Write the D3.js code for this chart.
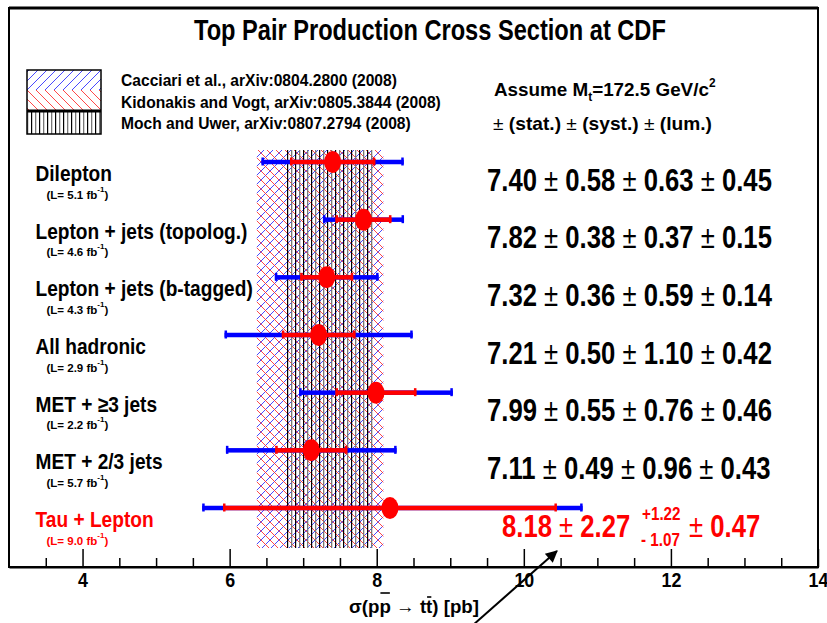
<!DOCTYPE html>
<html>
<head>
<meta charset="utf-8">
<script src="https://cdn.jsdelivr.net/npm/d3@7"></script>
<style>
  body { margin: 0; background: #fff; }
  text { font-family: "Liberation Sans", Arial, Helvetica, sans-serif; }
</style>
</head>
<body>
<div id="chart"></div>
<script>
// measurements, top to bottom as they appear in the plot
const channels = ["Dilepton", "Lepton + jets (topolog.)", "Lepton + jets (b-tagged)", "All hadronic",
  "MET + ≥3 jets", "MET + 2/3 jets", "Tau + Lepton"];
const lumiFb = ["5.1", "4.6", "4.3", "2.9", "2.2", "5.7", "9.0"];
const xsec = [7.40, 7.82, 7.32, 7.21, 7.99, 7.11, 8.18];
const statErr = [0.58, 0.38, 0.36, 0.50, 0.55, 0.49, 2.27];
const systUp = [0.63, 0.37, 0.59, 1.10, 0.76, 0.96, 1.22];
const systDown = [0.63, 0.37, 0.59, 1.10, 0.76, 0.96, 1.07];
const lumiErr = [0.45, 0.15, 0.14, 0.42, 0.46, 0.43, 0.47];
const newResult = "Tau + Lepton";

// theory predictions (bands)
const theoryNames = ["Cacciari et al., arXiv:0804.2800 (2008)",
  "Kidonakis and Vogt, arXiv:0805.3844 (2008)",
  "Moch and Uwer, arXiv:0807.2794 (2008)"];
const theoryLow = [6.37, 6.37, 6.78];
const theoryHigh = [8.09, 8.09, 7.97];

const xTicks = [4, 6, 8, 10, 12, 14];
const xMinor = [3.5, 4.5, 5, 5.5, 6.5, 7, 7.5, 8.5, 9, 9.5, 10.5, 11, 11.5, 12.5, 13, 13.5];

const title = "Top Pair Production Cross Section at CDF";

const W = 827, H = 623;
const frame = { left: 9, right: 818, top: 8, bottom: 567 };

const svg = d3.select("#chart").append("svg")
  .attr("width", W)
  .attr("height", H);

const x = d3.scaleLinear().domain([3, 14]).range([frame.left, frame.right]);
const y = d3.scalePoint().domain(channels).range([162, 508]);

const rows = channels.map((c, i) => ({
  name: c,
  lumi: lumiFb[i],
  v: xsec[i],
  stat: statErr[i],
  up: Math.hypot(statErr[i], systUp[i], lumiErr[i]),
  down: Math.hypot(statErr[i], systDown[i], lumiErr[i]),
  color: c === newResult ? "#ff0000" : "#000"
}));

// hatch patterns
const defs = svg.append("defs");
function pattern(id, w, h) {
  return defs.append("pattern").attr("id", id)
    .attr("patternUnits", "userSpaceOnUse")
    .attr("width", w).attr("height", h);
}
pattern("hatchBlue", 9, 9).append("path")
  .attr("d", "M0,9 L9,0 M-1,1 L1,-1 M8,10 L10,8")
  .attr("stroke", "#3333ff").attr("stroke-width", 0.9);
pattern("hatchRed", 9, 9).append("path")
  .attr("d", "M0,0 L9,9 M-1,8 L1,10 M8,-1 L10,1")
  .attr("stroke", "#ff3333").attr("stroke-width", 0.9);
let vp = pattern("hatchVert", 8, 10).attr("x", Math.round(x(theoryLow[2])));
vp.append("rect").attr("x", 0).attr("width", 1.2).attr("height", 10).attr("fill", "#000");
vp.append("rect").attr("x", 4).attr("width", 1.3).attr("height", 10).attr("fill", "#777");

defs.append("marker").attr("id", "arrow")
  .attr("viewBox", "0 0 10 10")
  .attr("refX", 9).attr("refY", 5)
  .attr("markerUnits", "userSpaceOnUse")
  .attr("markerWidth", 16).attr("markerHeight", 12)
  .attr("orient", "auto")
  .append("path").attr("d", "M0,0 L10,5 L0,10 z").attr("fill", "#000");

// theory bands
const bandTop = y(channels[0]) - 12;
const bandBottom = y(channels[channels.length - 1]) + 40;
const fills = ["url(#hatchBlue)", "url(#hatchRed)", "url(#hatchVert)"];
svg.append("g").selectAll("rect")
  .data(theoryLow)
  .join("rect")
    .attr("x", (d, i) => x(d))
    .attr("width", (d, i) => x(theoryHigh[i]) - x(d))
    .attr("y", bandTop)
    .attr("height", bandBottom - bandTop)
    .attr("fill", (d, i) => fills[i]);

// error bars: blue = total, red = stat
const barH = 4.5, capH = 8, capW = 2.5;
function bars(color, lo, hi) {
  const g = svg.append("g").attr("fill", color);
  g.selectAll("rect.bar").data(rows).join("rect").attr("class", "bar")
    .attr("x", d => x(d.v - lo(d)))
    .attr("width", d => x(d.v + hi(d)) - x(d.v - lo(d)))
    .attr("y", d => y(d.name) - barH / 2)
    .attr("height", barH);
  g.selectAll("rect.capl").data(rows).join("rect").attr("class", "capl")
    .attr("x", d => x(d.v - lo(d)))
    .attr("width", capW)
    .attr("y", d => y(d.name) - capH / 2 - 0.5)
    .attr("height", capH);
  g.selectAll("rect.capr").data(rows).join("rect").attr("class", "capr")
    .attr("x", d => x(d.v + hi(d)) - capW)
    .attr("width", capW)
    .attr("y", d => y(d.name) - capH / 2 - 0.5)
    .attr("height", capH);
}
bars("#0000ff", d => d.down, d => d.up);
bars("#ff0000", d => d.stat, d => d.stat);

svg.append("g").selectAll("ellipse")
  .data(rows)
  .join("ellipse")
    .attr("cx", d => x(d.v))
    .attr("cy", d => y(d.name))
    .attr("rx", 8.5)
    .attr("ry", 11)
    .attr("fill", "#ff0000");

// helper: squeeze a text group horizontally to a given width
function place(g, x0, y0, k) {
  g.attr("transform", `translate(${x0},${y0}) scale(${k},1)`);
}
function widthOf(g) { return g.node().getBBox().width; }

// channel labels
const labelG = rows.map(d => {
  const g = svg.append("g");
  g.append("text")
    .attr("font-size", 22).attr("font-weight", "bold")
    .attr("fill", d.color)
    .text(d.name);
  return g;
});
const kLabel = 212 / widthOf(labelG[1]);
labelG.forEach((g, i) => place(g, 35.5, y(rows[i].name) + 19, kLabel));

// luminosity labels
rows.forEach(d => {
  const t = svg.append("text")
    .attr("x", 46.5).attr("y", y(d.name) + 36.5)
    .attr("font-size", 11.5).attr("font-weight", "bold")
    .attr("fill", d.color);
  t.append("tspan").text(`(L= ${d.lumi} fb`);
  t.append("tspan").attr("font-size", 8).attr("dy", -7).text("-1");
  t.append("tspan").attr("dy", 7).text(")");
});

// result numbers
function pmText(g, parts, size, color) {
  const t = g.append("text").attr("font-size", size).attr("fill", color);
  parts.forEach(p => {
    t.append("tspan")
      .attr("font-weight", p === "±" ? "normal" : "bold")
      .text(p === "±" ? " ± " : p);
  });
  return t;
}
const numG = rows.map((d, i) => {
  const g = svg.append("g");
  if (d.name === newResult) {
    pmText(g, [d.v.toFixed(2), "±", d.stat.toFixed(2)], 32, d.color);
  } else {
    pmText(g, [d.v.toFixed(2), "±", d.stat.toFixed(2), "±", systUp[i].toFixed(2),
      "±", lumiErr[i].toFixed(2)], 32, d.color);
  }
  return g;
});
const kNum = 285 / widthOf(numG[0]);
numG.forEach((g, i) => {
  const d = rows[i];
  const yb = y(d.name) + 28.5;
  if (d.name !== newResult) {
    place(g, 487, yb, kNum);
  } else {
    place(g, 502, yb, kNum);
    const up = svg.append("g");
    up.append("text").attr("font-size", 19).attr("font-weight", "bold").attr("fill", d.color)
      .text("+" + systUp[i].toFixed(2));
    place(up, 642, yb - 17, kNum);
    const dn = svg.append("g");
    dn.append("text").attr("font-size", 19).attr("font-weight", "bold").attr("fill", d.color)
      .text("- " + systDown[i].toFixed(2));
    place(dn, 641, yb + 9, kNum);
    const lu = svg.append("g");
    pmText(lu, ["±", lumiErr[i].toFixed(2)], 32, d.color);
    place(lu, 689, yb, kNum);
  }
});

// title
const tg = svg.append("g");
tg.append("text").attr("font-size", 29).attr("font-weight", "bold").text(title);
place(tg, 194, 40, 472 / widthOf(tg));

// legend
const leg = { x: 27, y: 70, w: 74 };
const legRows = [[70, 90], [90, 111], [111, 134]];
svg.append("g").selectAll("rect")
  .data(legRows)
  .join("rect")
    .attr("x", leg.x)
    .attr("y", d => d[0])
    .attr("width", leg.w)
    .attr("height", d => d[1] - d[0])
    .attr("fill", (d, i) => fills[i]);
svg.append("rect")
  .attr("x", leg.x).attr("y", 70).attr("width", leg.w).attr("height", 64)
  .attr("fill", "none").attr("stroke", "#000").attr("stroke-width", 1.5);
svg.append("line")
  .attr("x1", leg.x).attr("x2", leg.x + leg.w).attr("y1", 111).attr("y2", 111)
  .attr("stroke", "#000").attr("stroke-width", 3);

const legG = theoryNames.map(n => {
  const g = svg.append("g");
  g.append("text").attr("font-size", 17).attr("font-weight", "bold").text(n);
  return g;
});
const kLeg = 320 / widthOf(legG[1]);
const legBase = [86, 107.5, 129];
legG.forEach((g, i) => place(g, 121, legBase[i], kLeg));

// mass assumption and error legend
const ag = svg.append("g");
const at = ag.append("text").attr("font-size", 19).attr("font-weight", "bold");
at.append("tspan").text("Assume M");
at.append("tspan").attr("font-size", 12).attr("dy", 5).text("t");
at.append("tspan").attr("dy", -5).text("=172.5 GeV/c");
at.append("tspan").attr("font-size", 12).attr("dy", -9).text("2");
place(ag, 494, 96, 222 / widthOf(ag));

const eg = svg.append("g");
const et = eg.append("text").attr("font-size", 19);
["±", " (stat.) ", "±", " (syst.) ", "±", " (lum.)"].forEach(p => {
  et.append("tspan").attr("font-weight", p === "±" ? "normal" : "bold").text(p);
});
place(eg, 493, 130, 219 / widthOf(eg));

// frame
svg.append("rect")
  .attr("x", frame.left).attr("y", frame.top)
  .attr("width", frame.right - frame.left).attr("height", frame.bottom - frame.top)
  .attr("fill", "none").attr("stroke", "#000").attr("stroke-width", 2);
svg.append("line")
  .attr("x1", frame.left).attr("x2", frame.right).attr("y1", frame.top).attr("y2", frame.top)
  .attr("stroke", "#000").attr("stroke-width", 3);

// x axis, ticks pointing inward
const axisG = svg.append("g").attr("transform", `translate(0,${frame.bottom})`);
axisG.append("g")
  .call(d3.axisBottom(x).tickValues(xMinor).tickSizeInner(-9).tickSizeOuter(0).tickFormat(""))
  .call(g => g.select(".domain").remove())
  .selectAll("line").attr("stroke-width", 1.5);
axisG.append("g")
  .call(d3.axisBottom(x).tickValues(xTicks).tickSizeInner(-18).tickSizeOuter(0).tickPadding(5))
  .call(g => g.select(".domain").attr("stroke-width", 2))
  .call(g => g.selectAll("line").attr("stroke-width", 1.5))
  .call(g => g.selectAll("text")
    .attr("font-size", 21).attr("font-weight", "bold")
    .attr("font-family", '"Liberation Sans", Arial, sans-serif')
    .attr("fill", "#000")
    .attr("transform", "scale(0.85,1)"));

// axis title with overbars
const xg = svg.append("g");
const xt = xg.append("text").attr("font-size", 19).attr("font-weight", "bold")
  .attr("text-anchor", "middle").text("σ(pp → tt) [pb]");
place(xg, 414, 613, 130 / widthOf(xg));
[[3, -20], [8, -16]].forEach(([ci, dy]) => {
  const e = xt.node().getExtentOfChar(ci);
  xg.append("line")
    .attr("x1", e.x + 1).attr("x2", e.x + e.width - 1)
    .attr("y1", dy).attr("y2", dy)
    .attr("stroke", "#000").attr("stroke-width", 1.6);
});

// arrow pointing at the new result
const tau = rows[channels.indexOf(newResult)];
const tipX = x(tau.v + tau.stat), tipY = y(tau.name) + 43;
svg.append("line")
  .attr("x1", tipX - 85).attr("y1", tipY + 75)
  .attr("x2", tipX).attr("y2", tipY)
  .attr("stroke", "#000").attr("stroke-width", 2)
  .attr("marker-end", "url(#arrow)");
</script>
</body>
</html>
